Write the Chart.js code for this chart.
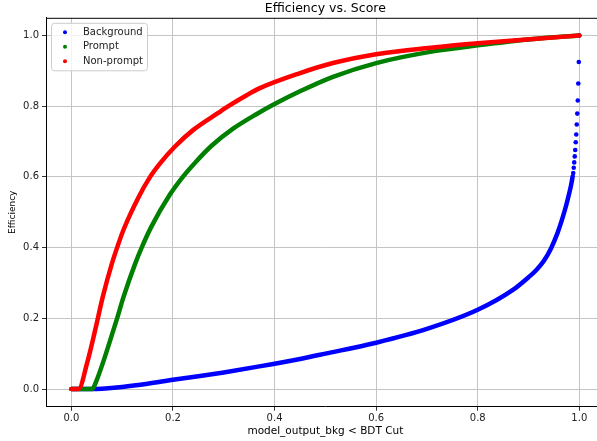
<!DOCTYPE html>
<html lang="en">
<head>
    <meta charset="UTF-8">
    <title>Efficiency vs. Score</title>
    <script src="https://cdn.jsdelivr.net/npm/chart.js@4.4.0/dist/chart.umd.min.js"></script>
    <style>
        html, body {
            margin: 0;
            padding: 0;
            background: #fff;
            overflow: hidden;
        }

        /* the axes run past the right edge in the reference, so the canvas is cut */
        #wrap {
            width: 597px;
            height: 441px;
            overflow: hidden;
        }
    </style>
</head>
<body>
    <div id="wrap"><canvas id="effChart" width="607" height="441"></canvas></div>

    <script>
        'use strict';

        // values
        const seriesNames = ['Background', 'Prompt', 'Non-prompt'];
        const seriesColors = ['#0000ff', '#008000', '#ff0000'];

        const bkgX = [0, 0.04, 0.06, 0.1, 0.15, 0.2, 0.25, 0.3, 0.37, 0.45, 0.5, 0.6, 0.7, 0.8, 0.87, 0.9,
            0.915, 0.93, 0.944, 0.957, 0.967, 0.975, 0.98, 0.984, 0.986, 0.987,
            0.988, 0.989, 0.99, 0.991, 0.992, 0.993, 0.994, 0.995, 0.996, 0.997, 0.998, 0.999, 1.0];
        const bkgY = [0, 0, 0.001, 0.006, 0.015, 0.026, 0.036, 0.047, 0.064, 0.085, 0.1, 0.131, 0.17, 0.224, 0.281, 0.316,
            0.336, 0.362, 0.397, 0.441, 0.484, 0.524, 0.553, 0.578, 0.594, 0.602,
            0.611, 0.626, 0.641, 0.658, 0.676, 0.698, 0.72, 0.748, 0.779, 0.816, 0.864, 0.925, 1.0];

        const promptX = [0, 0.041, 0.05, 0.062, 0.083, 0.09, 0.103, 0.126, 0.139, 0.157, 0.194, 0.221, 0.244,
            0.276, 0.319, 0.365, 0.4, 0.45, 0.515, 0.6, 0.712, 0.8, 0.91, 1.0];
        const promptY = [0, 0, 0.026, 0.074, 0.168, 0.2, 0.262, 0.356, 0.402, 0.458, 0.55, 0.603, 0.641,
            0.688, 0.737, 0.778, 0.806, 0.842, 0.883, 0.922, 0.955, 0.972, 0.99, 1.0];

        const nonPromptX = [0, 0.014, 0.031, 0.047, 0.062, 0.08, 0.09, 0.103, 0.132, 0.155, 0.175, 0.204, 0.24,
            0.289, 0.309, 0.345, 0.371, 0.449, 0.515, 0.6, 0.712, 0.8, 0.91, 1.0];
        const nonPromptY = [0, 0, 0.074, 0.168, 0.262, 0.356, 0.4, 0.452, 0.542, 0.6, 0.639, 0.686, 0.733,
            0.781, 0.8, 0.831, 0.851, 0.893, 0.922, 0.947, 0.966, 0.978, 0.99, 1.0];

        const xTicks = [0, 0.2, 0.4, 0.6, 0.8, 1.0];
        const yTicks = [0, 0.2, 0.4, 0.6, 0.8, 1.0];

        // where the background points stop touching each other
        const tailStart = 0.9875;

        const toPoints = (xs, ys) => xs.map((x, i) => ({ x: x, y: ys[i] }));

        Chart.defaults.font.family = "'DejaVu Sans', sans-serif";
        Chart.defaults.color = '#222';

        // matplotlib style frame top line and legend box
        const frameAndLegend = {
            id: 'frameAndLegend',
            afterDraw(chart) {
                const ctx = chart.ctx;
                const a = chart.chartArea;
                ctx.save();

                ctx.strokeStyle = '#000';
                ctx.lineWidth = 1;
                ctx.beginPath();
                ctx.moveTo(a.left, a.top + 0.5);
                ctx.lineTo(a.right, a.top + 0.5);
                ctx.stroke();

                const bx = a.left + 5.5, by = a.top + 5.5;
                ctx.beginPath();
                ctx.roundRect(bx, by, 96, 47.5, 3);
                ctx.fillStyle = 'rgba(255,255,255,0.8)';
                ctx.fill();
                ctx.strokeStyle = '#cccccc';
                ctx.stroke();

                ctx.font = "10px 'DejaVu Sans'";
                ctx.textBaseline = 'middle';
                ctx.textAlign = 'left';
                seriesNames.forEach((name, i) => {
                    const ly = by + 9 + i * 14.5;
                    ctx.beginPath();
                    ctx.arc(a.left + 19, ly, 2, 0, Math.PI * 2);
                    ctx.fillStyle = seriesColors[i];
                    ctx.fill();
                    ctx.fillStyle = '#222';
                    ctx.fillText(name, a.left + 37, ly);
                });
                ctx.restore();
            }
        };

        const ctxEff = document.getElementById('effChart').getContext('2d');
        window.effChart = new Chart(ctxEff, {
            type: 'line',
            data: {
                datasets: [{
                    label: seriesNames[0],
                    data: toPoints(bkgX, bkgY),
                    borderColor: seriesColors[0],
                    backgroundColor: seriesColors[0],
                    pointRadius: c => (c.raw && c.raw.x > tailStart ? 2.3 : 0),
                    segment: {
                        borderColor: c => (c.p0.parsed.x > tailStart - 0.0015 ? 'rgba(0,0,0,0)' : undefined)
                    },
                    order: 2
                }, {
                    label: seriesNames[1],
                    data: toPoints(promptX, promptY),
                    borderColor: seriesColors[1],
                    backgroundColor: seriesColors[1],
                    pointRadius: 0,
                    order: 1
                }, {
                    label: seriesNames[2],
                    data: toPoints(nonPromptX, nonPromptY),
                    borderColor: seriesColors[2],
                    backgroundColor: seriesColors[2],
                    pointRadius: 0,
                    order: 0
                }]
            },
            options: {
                responsive: false,
                animation: false,
                devicePixelRatio: 1,
                layout: { padding: 0 },
                elements: {
                    line: {
                        borderWidth: 4.5,
                        borderCapStyle: 'round',
                        borderJoinStyle: 'round',
                        cubicInterpolationMode: 'monotone',
                        fill: false
                    },
                    point: { borderWidth: 0, hoverRadius: 0 }
                },
                plugins: {
                    legend: { display: false },
                    tooltip: { enabled: false },
                    title: {
                        display: true,
                        text: 'Efficiency vs. Score',
                        fullSize: false,
                        color: '#000',
                        font: { size: 12.5, weight: 'normal' },
                        padding: { top: 1.5, bottom: 1.3 }
                    }
                },
                scales: {
                    x: {
                        type: 'linear',
                        min: -0.05,
                        max: 1.05,
                        afterBuildTicks: s => { s.ticks = xTicks.map(v => ({ value: v })); },
                        afterFit: s => { s.height = 34.3; },
                        ticks: {
                            callback: v => v.toFixed(1),
                            font: { size: 10 },
                            padding: 2,
                            maxRotation: 0
                        },
                        grid: { color: '#c4c4c4', lineWidth: 1, tickColor: '#333', tickLength: 4 },
                        border: { color: '#000', width: 1 },
                        title: {
                            display: true,
                            text: 'model_output_bkg < BDT Cut',
                            color: '#000',
                            font: { size: 10.5 },
                            padding: { top: 0, bottom: 3 }
                        }
                    },
                    y: {
                        type: 'linear',
                        min: -0.05,
                        max: 1.05,
                        afterBuildTicks: s => { s.ticks = yTicks.map(v => ({ value: v })); },
                        afterFit: s => { s.width = 46; },
                        ticks: {
                            callback: v => v.toFixed(1),
                            font: { size: 10 },
                            padding: 3
                        },
                        grid: { color: '#c4c4c4', lineWidth: 1, tickColor: '#333', tickLength: 4 },
                        border: { color: '#000', width: 1 },
                        title: {
                            display: true,
                            text: 'Efficiency',
                            color: '#000',
                            font: { size: 9 },
                            padding: { top: 7, bottom: 0 }
                        }
                    }
                }
            },
            plugins: [frameAndLegend]
        });
    </script>
</body>
</html>
